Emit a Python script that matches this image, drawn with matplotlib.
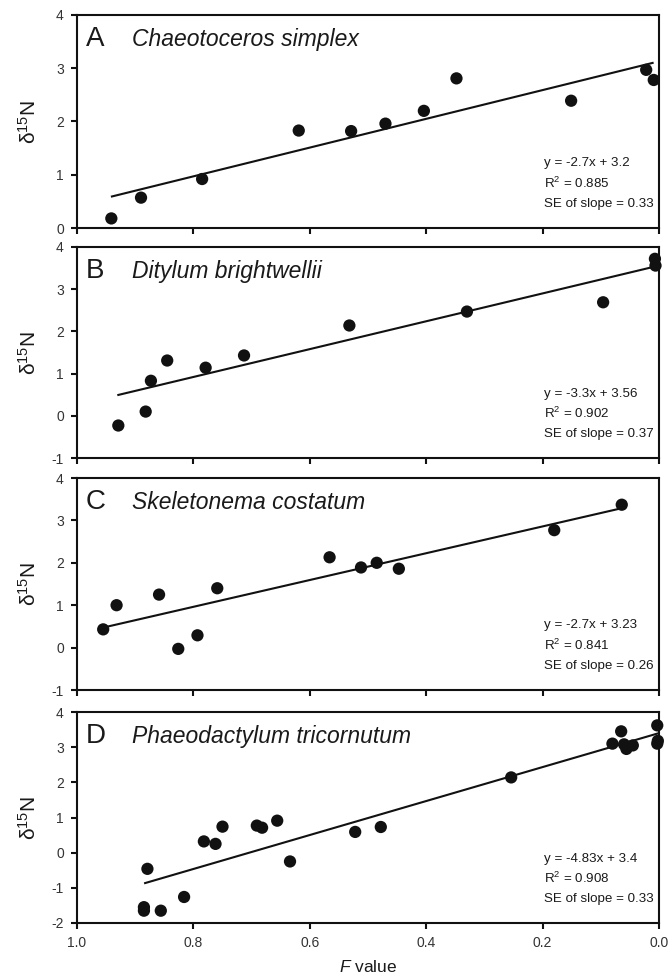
import matplotlib
matplotlib.use("Agg")
import matplotlib.pyplot as plt
from matplotlib import font_manager
import numpy as np

plt.rcParams['font.family'] = ['Liberation Sans', 'DejaVu Sans']
plt.rcParams['mathtext.fontset'] = 'custom'
plt.rcParams['mathtext.rm'] = 'Liberation Sans'
plt.rcParams['mathtext.it'] = 'Liberation Sans:italic'
plt.rcParams['axes.unicode_minus'] = False

# ---- data ----
letters = ['A', 'B', 'C', 'D']
species = ['Chaeotoceros simplex', 'Ditylum brightwellii',
           'Skeletonema costatum', 'Phaeodactylum tricornutum']

A_F = [0.941, 0.890, 0.785, 0.619, 0.529, 0.470, 0.404, 0.348, 0.151, 0.022, 0.009]
A_d = [0.18, 0.57, 0.92, 1.83, 1.82, 1.96, 2.20, 2.81, 2.39, 2.97, 2.78]

B_F = [0.929, 0.882, 0.873, 0.845, 0.779, 0.713, 0.532, 0.330, 0.096, 0.007, 0.006]
B_d = [-0.23, 0.10, 0.83, 1.31, 1.14, 1.43, 2.14, 2.47, 2.69, 3.72, 3.56]

C_F = [0.955, 0.932, 0.859, 0.826, 0.793, 0.759, 0.566, 0.512, 0.485, 0.447, 0.180, 0.064]
C_d = [0.43, 1.00, 1.25, -0.03, 0.29, 1.40, 2.13, 1.89, 2.00, 1.86, 2.77, 3.37]

D_F = [0.885, 0.885, 0.879, 0.856, 0.816, 0.782, 0.762, 0.750, 0.691, 0.682,
       0.656, 0.634, 0.522, 0.478, 0.254, 0.080, 0.065, 0.060, 0.056, 0.045,
       0.003, 0.003, 0.002]
D_d = [-1.55, -1.65, -0.46, -1.65, -1.26, 0.32, 0.25, 0.74, 0.77, 0.71,
       0.91, -0.25, 0.59, 0.73, 2.14, 3.10, 3.45, 3.08, 2.95, 3.05,
       3.62, 3.10, 3.18]

fit_slope = [-2.7, -3.3, -3.16, -4.83]
fit_intercept = [3.13, 3.56, 3.49, 3.4]
fit_fmin = [0.011, 0.007, 0.064, 0.0]
fit_fmax = [0.940, 0.929, 0.955, 0.883]

eq_text = ['y = -2.7x + 3.2', 'y = -3.3x + 3.56', 'y = -2.7x + 3.23', 'y = -4.83x + 3.4']
r2_text = ['0.885', '0.902', '0.841', '0.908']
se_text = ['0.33', '0.37', '0.26', '0.33']

y_limits = [(0, 4), (-1, 4), (-1, 4), (-2, 4)]
x_ticks = [1.0, 0.8, 0.6, 0.4, 0.2, 0.0]
x_ticklabels = ['1.0', '0.8', '0.6', '0.4', '0.2', '0.0']

F_all = [A_F, B_F, C_F, D_F]
d_all = [A_d, B_d, C_d, D_d]

# narrow font for the regression annotations if available
_names = {f.name for f in font_manager.fontManager.ttflist}
if 'Liberation Sans Narrow' in _names:
    ann_family = ['Liberation Sans Narrow', 'Liberation Sans']
    ann_size = 11
else:
    ann_family = ['Liberation Sans']
    ann_size = 9.6

# ---- layout ----
fig = plt.figure(figsize=(6.7, 9.77), dpi=100)
W, H = 670.0, 977.0
left_px, right_px = 77, 659
panel_px = [(15, 228), (247, 458), (478, 690), (712, 923)]

ink = '#111111'
txt = '#1a1a1a'

for i in range(4):
    top, bot = panel_px[i]
    ax = fig.add_axes([left_px / W, 1 - bot / H, (right_px - left_px) / W, (bot - top) / H])
    ax.scatter(F_all[i], d_all[i], s=78, color=ink, edgecolors='none', zorder=3, clip_on=False)
    fx = np.array([fit_fmin[i], fit_fmax[i]])
    ax.plot(fx, fit_slope[i] * fx + fit_intercept[i], color=ink, lw=1.5, zorder=2)

    ax.set_xlim(1.0, 0.0)
    ax.set_ylim(*y_limits[i])
    ax.set_xticks(x_ticks)
    ax.set_yticks(np.arange(y_limits[i][0], y_limits[i][1] + 1))
    if i == 3:
        ax.set_xticklabels(x_ticklabels)
        ax.set_xlabel(r'$F$ value', fontsize=12.5, color=txt, labelpad=6)
    else:
        ax.set_xticklabels([])
    for sp in ax.spines.values():
        sp.set_linewidth(1.5)
        sp.set_color(ink)
    ax.tick_params(axis='both', direction='out', length=4.5, width=1.5, color=ink,
                   labelsize=10, labelcolor='#333333', pad=5, top=False, right=False)
    ax.set_ylabel(r'$\mathregular{δ^{15}N}$', fontsize=15, color=txt)
    ax.yaxis.set_label_coords(-0.064, 0.5)

    ax.text(0.015, 0.885, letters[i], transform=ax.transAxes, fontsize=20,
            color=txt, va='center', ha='left')
    ax.text(0.094, 0.885, species[i], transform=ax.transAxes, fontsize=16.5,
            style='italic', color=txt, va='center', ha='left')

    ax.text(0.803, 0.305, eq_text[i], transform=ax.transAxes, fontsize=ann_size,
            family=ann_family, color=txt, va='center', ha='left')
    ax.text(0.803, 0.21, r'R$^{\mathregular{2}}$ = ' + r2_text[i], transform=ax.transAxes,
            fontsize=ann_size, family=ann_family, color=txt, va='center', ha='left')
    ax.text(0.803, 0.115, 'SE of slope = ' + se_text[i], transform=ax.transAxes,
            fontsize=ann_size, family=ann_family, color=txt, va='center', ha='left')

fig.savefig('out.png', dpi=100)
